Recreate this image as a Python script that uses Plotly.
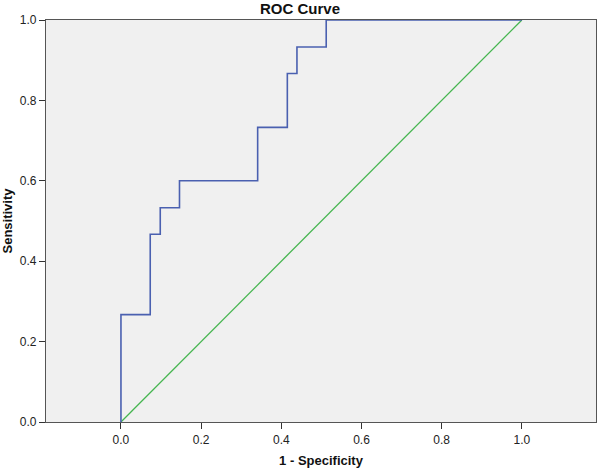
import plotly.graph_objects as go

# ROC curve step corners (1 - specificity, sensitivity)
fpr = [0.0, 0.0, 0.073, 0.098, 0.146, 0.341, 0.415, 0.439, 0.512, 1.0]
tpr = [0.0, 0.267, 0.467, 0.533, 0.600, 0.733, 0.867, 0.933, 1.0, 1.0]

# reference diagonal
ref_x = [0.0, 1.0]
ref_y = [0.0, 1.0]

tick_vals = [0.0, 0.2, 0.4, 0.6, 0.8, 1.0]
tick_text = ["0.0", "0.2", "0.4", "0.6", "0.8", "1.0"]

fig = go.Figure()
fig.add_trace(go.Scatter(x=ref_x, y=ref_y, mode="lines",
                         line=dict(color="#45B54F", width=1.3),
                         showlegend=False, hoverinfo="skip", cliponaxis=False))
fig.add_trace(go.Scatter(x=fpr, y=tpr, mode="lines", line_shape="hv",
                         line=dict(color="#4A60B0", width=1.6),
                         showlegend=False, cliponaxis=False))

fig.update_layout(
    width=600, height=469,
    margin=dict(l=46, r=4, t=20, b=47, autoexpand=False),
    paper_bgcolor="white",
    plot_bgcolor="#F0F0F0",
    font=dict(family="Liberation Sans, Arial, sans-serif", color="#111111", size=12),
    title=dict(text="<b>ROC Curve</b>", x=0.5, xanchor="center",
               y=1 - 9 / 469, yanchor="middle",
               font=dict(size=15, color="#111111")),
)
fig.update_xaxes(
    range=[-0.187, 1.185], tickvals=tick_vals, ticktext=tick_text,
    ticks="outside", ticklen=6, tickcolor="#333333", tickwidth=1,
    showgrid=False, zeroline=False, automargin=False,
    showline=True, linecolor="#555555", linewidth=1.2, mirror=True,
    title=dict(text="<b>1 - Specificity</b>", font=dict(size=13), standoff=10),
    tickfont=dict(size=12, color="#222222"),
)
fig.update_yaxes(
    range=[0, 1], tickvals=tick_vals, ticktext=tick_text,
    ticks="outside", ticklen=6, tickcolor="#333333", tickwidth=1,
    showgrid=False, zeroline=False, automargin=False,
    showline=True, linecolor="#555555", linewidth=1.2, mirror=True,
    title=dict(text="<b>Sensitivity</b>", font=dict(size=13), standoff=4),
    tickfont=dict(size=12, color="#222222"),
)

fig.write_html("out.html", config={"displayModeBar": False},
               post_script="document.body.style.margin='0px';document.body.style.padding='0px';")
